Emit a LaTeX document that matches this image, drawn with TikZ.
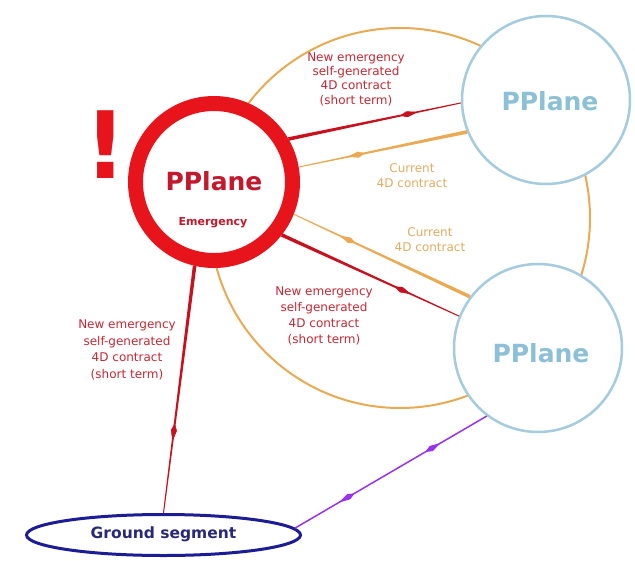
\documentclass[tikz,border=0pt]{standalone}
\usepackage{fontspec}
\setmainfont{DejaVu Sans}
\usetikzlibrary{calc,arrows.meta,decorations.markings,shapes.geometric}
\definecolor{ringred}{RGB}{232,20,28}
\definecolor{emtext}{RGB}{196,24,44}
\definecolor{arrred}{RGB}{200,16,30}
\definecolor{lblred}{RGB}{196,40,52}
\definecolor{orng}{RGB}{234,170,84}
\definecolor{lblorng}{RGB}{226,172,96}
\definecolor{ltblue}{RGB}{164,204,222}
\definecolor{bluetext}{RGB}{140,192,214}
\definecolor{gblue}{RGB}{28,28,150}
\definecolor{gtext}{RGB}{40,40,120}
\definecolor{purp}{RGB}{150,50,240}
\newcommand\spearline[4]{%
  \fill[#1] ($(#2)!1.8pt!90:(#3)$) -- ($(#2)!1.8pt!-90:(#3)$) -- ($(#3)!0.5pt!90:(#2)$) -- ($(#3)!0.5pt!-90:(#2)$) -- cycle;
  \path[decorate, decoration={markings, mark=at position #4 with {\arrow{Kite[length=18pt,width=6pt,inset=7pt,color=#1]}}}] (#2) -- (#3);
}
\begin{document}
\begin{tikzpicture}[x=1pt,y=-1pt,
  bigring/.style={circle, draw=orng, line width=2pt, minimum size=380pt, inner sep=0pt},
  emring/.style={circle, draw=ringred, line width=15pt, fill=white, minimum size=157pt, inner sep=0pt},
  ppl/.style={circle, draw=ltblue, line width=2.5pt, fill=white, minimum size=168pt, inner sep=0pt},
  gseg/.style={ellipse, draw=gblue, line width=3pt, fill=white, minimum width=274pt, minimum height=41pt, inner sep=0pt},
  pltext/.style={font=\bfseries\fontsize{25}{25}\selectfont, anchor=base, inner sep=0pt},
  lbl/.style={align=center, inner sep=0pt}
]
\useasboundingbox[fill=white] (0,0) rectangle (635,560);
\node[bigring] (big) at (400,218) {};
\node[emring] (em) at (214,182) {};
\node[ppl] (top) at (546,100) {};
\node[ppl] (bot) at (538,348) {};
\node[gseg] (ground) at (163.5,535) {};

\spearline{arrred}{em.30}{top.182}{0.75}
\spearline{orng}{top.202}{em.10}{0.71}
\spearline{orng}{bot.143}{em.-22}{0.74}
\spearline{arrred}{em.-38}{bot.158}{0.73}
\spearline{arrred}{em.-103}{ground.north}{0.71}
\draw[purp, line width=1.5pt,
  decoration={markings,
    mark=at position 0.23 with {\arrowreversed{Kite[length=18pt,width=6pt,inset=7pt]}},
    mark=at position 0.76 with {\arrow{Kite[length=18pt,width=6pt,inset=7pt]}}},
  postaction=decorate] (ground.3) -- (bot.233);

\node[text=ringred, font=\bfseries\fontsize{93}{93}\selectfont, anchor=base, inner sep=0pt] (excl) at (106,178) {!};
\node[pltext, text=emtext] (emname) at (214,190) {PPlane};
\node[text=emtext, font=\bfseries\fontsize{11}{11}\selectfont, anchor=base, inner sep=0pt] (emsub) at (213,225) {Emergency};
\node[pltext, text=bluetext] (topname) at (550,110) {PPlane};
\node[pltext, text=bluetext] (botname) at (541,362) {PPlane};
\node[text=gtext, font=\bfseries\fontsize{15.5}{15.5}\selectfont, anchor=base, inner sep=0pt] (gname) at (163.5,538) {Ground segment};

\node[lbl, text=lblred, font=\fontsize{12}{14.3}\selectfont] (l1) at (356,79) {New emergency\\self-generated\\4D contract\\(short term)};
\node[lbl, text=lblorng, font=\fontsize{12}{15}\selectfont] (l2) at (412,176) {Current\\4D contract};
\node[lbl, text=lblorng, font=\fontsize{12}{15}\selectfont] (l3) at (430,240) {Current\\4D contract};
\node[lbl, text=lblred, font=\fontsize{12}{16}\selectfont] (l4) at (324,316) {New emergency\\self-generated\\4D contract\\(short term)};
\node[lbl, text=lblred, font=\fontsize{12}{16.5}\selectfont] (l5) at (127,350) {New emergency\\self-generated\\4D contract\\(short term)};
\end{tikzpicture}
\end{document}
